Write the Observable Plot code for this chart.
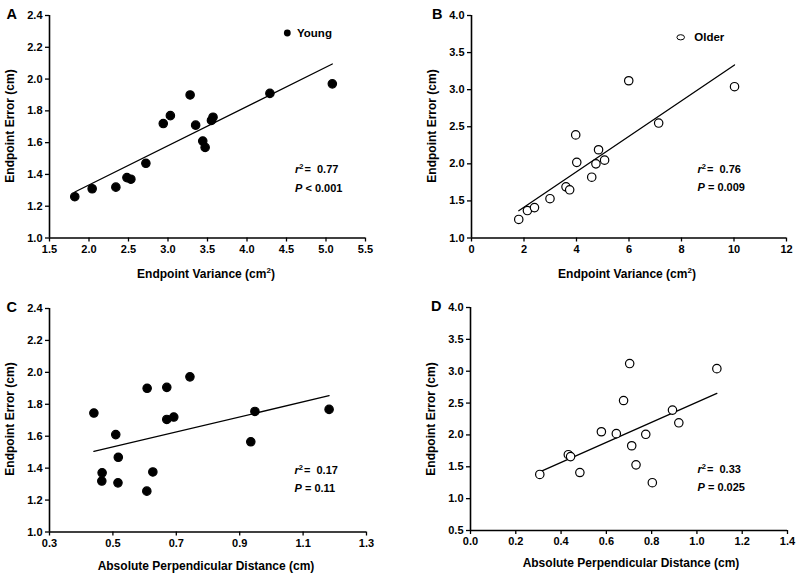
<!DOCTYPE html>
<html><head><meta charset="utf-8">
<script src="https://cdn.jsdelivr.net/npm/d3@7"></script>
<script src="https://cdn.jsdelivr.net/npm/@observablehq/plot@0.6"></script>
<style>
body{margin:0;background:#fff;}
#fig{position:relative;width:800px;height:579px;overflow:hidden;background:#fff;}
#fig svg.plot{position:absolute;}
#overlay{position:absolute;left:0;top:0;pointer-events:none;}
</style></head><body><div id="fig"></div>
<script>
// ---- Data ----
// Panel A: young, endpoint variance vs endpoint error
const youngVarianceA = [1.82, 2.04, 2.34, 2.48, 2.53, 2.72, 2.94, 3.03, 3.28, 3.35, 3.44, 3.47, 3.55, 3.57, 4.29, 5.08];
const youngErrorA    = [1.26, 1.31, 1.32, 1.38, 1.37, 1.47, 1.72, 1.77, 1.90, 1.71, 1.61, 1.57, 1.74, 1.76, 1.91, 1.97];
// Panel B: older, endpoint variance vs endpoint error
const olderVarianceB = [1.80, 2.13, 2.40, 2.99, 3.60, 3.74, 3.97, 4.01, 4.58, 4.74, 4.84, 5.07, 5.99, 7.13, 10.02];
const olderErrorB    = [1.25, 1.37, 1.41, 1.53, 1.69, 1.65, 2.39, 2.02, 1.82, 2.00, 2.19, 2.05, 3.12, 2.55, 3.04];
// Panel C: young, absolute perpendicular distance vs endpoint error
const youngDistanceC = [0.440, 0.466, 0.465, 0.509, 0.517, 0.516, 0.608, 0.607, 0.626, 0.670, 0.670, 0.692, 0.743, 0.935, 0.948, 1.182];
const youngErrorC    = [1.745, 1.371, 1.319, 1.610, 1.468, 1.308, 1.900, 1.256, 1.376, 1.906, 1.705, 1.720, 1.972, 1.565, 1.755, 1.768];
// Panel D: older, absolute perpendicular distance vs endpoint error
const olderDistanceD = [0.306, 0.432, 0.442, 0.483, 0.578, 0.644, 0.676, 0.703, 0.712, 0.731, 0.774, 0.803, 0.892, 0.920, 1.088];
const olderErrorD    = [1.38, 1.69, 1.66, 1.41, 2.05, 2.02, 2.54, 3.12, 1.83, 1.53, 2.01, 1.25, 2.39, 2.19, 3.04];

// Tick values
const ticksXA = [1.5, 2.0, 2.5, 3.0, 3.5, 4.0, 4.5, 5.0, 5.5];
const ticksYA = [1.0, 1.2, 1.4, 1.6, 1.8, 2.0, 2.2, 2.4];
const ticksXB = [0, 2, 4, 6, 8, 10, 12];
const ticksYB = [1.0, 1.5, 2.0, 2.5, 3.0, 3.5, 4.0];
const ticksXC = [0.3, 0.5, 0.7, 0.9, 1.1, 1.3];
const ticksYC = [1.0, 1.2, 1.4, 1.6, 1.8, 2.0, 2.2, 2.4];
const ticksXD = [0.0, 0.2, 0.4, 0.6, 0.8, 1.0, 1.2, 1.4];
const ticksYD = [0.5, 1.0, 1.5, 2.0, 2.5, 3.0, 3.5, 4.0];

// Texts
const panelLetters = ["A", "B", "C", "D"];
const xTitles = ["Endpoint Variance (cm²)", "Endpoint Variance (cm²)", "Absolute Perpendicular Distance (cm)", "Absolute Perpendicular Distance (cm)"];
const yTitle = "Endpoint Error (cm)";
const r2Values = ["0.77", "0.76", "0.17", "0.33"];
const pTexts = ["< 0.001", "= 0.009", "= 0.11", "= 0.025"];
const legendLabels = ["Young", "Older"];

const FONT = '"Liberation Sans", Arial, Helvetica, sans-serif';

const rows = (xs, ys) => xs.map((x, i) => ({x, y: ys[i]}));

const panels = [
  {data: rows(youngVarianceA, youngErrorA), filled: true,  left: 0,   top: 0,   h: 290, m: [15, 35, 52.5, 49], xT: ticksXA, yT: ticksYA, xF: d3.format(".1f"), yF: d3.format(".1f")},
  {data: rows(olderVarianceB, olderErrorB), filled: false, left: 400, top: 0,   h: 290, m: [15, 14, 52.5, 71], xT: ticksXB, yT: ticksYB, xF: d3.format("d"),  yF: d3.format(".1f")},
  {data: rows(youngDistanceC, youngErrorC), filled: true,  left: 0,   top: 290, h: 289, m: [18, 34, 47.5, 49], xT: ticksXC, yT: ticksYC, xF: d3.format(".1f"), yF: d3.format(".1f")},
  {data: rows(olderDistanceD, olderErrorD), filled: false, left: 400, top: 290, h: 289, m: [17, 13, 49, 70],   xT: ticksXD, yT: ticksYD, xF: d3.format(".1f"), yF: d3.format(".1f")}
];

const fig = document.getElementById("fig");

panels.forEach(p => {
  const xDom = [p.xT[0], p.xT[p.xT.length - 1]];
  const yDom = [p.yT[0], p.yT[p.yT.length - 1]];
  const svg = Plot.plot({
    width: 400,
    height: p.h,
    marginTop: p.m[0], marginRight: p.m[1], marginBottom: p.m[2], marginLeft: p.m[3],
    style: {fontFamily: FONT, fontSize: "11px", fontWeight: "bold", color: "black", background: "transparent", overflow: "visible"},
    x: {domain: xDom},
    y: {domain: yDom},
    marks: [
      Plot.axisX({ticks: p.xT, tickFormat: p.xF, tickSize: 4, tickPadding: 3, strokeWidth: 1.3, label: null, fontSize: 11, fontWeight: "bold"}),
      Plot.axisY({ticks: p.yT, tickFormat: p.yF, tickSize: 4, tickPadding: 3, strokeWidth: 1.3, label: null, fontSize: 11, fontWeight: "bold"}),
      Plot.ruleX([xDom[0]], {stroke: "black", strokeWidth: 1.6}),
      Plot.ruleY([yDom[0]], {stroke: "black", strokeWidth: 1.6}),
      Plot.linearRegressionY(p.data, {x: "x", y: "y", stroke: "black", strokeWidth: 1.3, ci: 0}),
      Plot.dot(p.data, {x: "x", y: "y", r: 4.2, fill: p.filled ? "black" : "white", stroke: "black", strokeWidth: 1.2})
    ]
  });
  svg.classList.add("plot");
  svg.style.left = p.left + "px";
  svg.style.top = p.top + "px";
  fig.appendChild(svg);
});

// ---- Overlay: panel letters, axis titles, legends, statistics ----
const NS = "http://www.w3.org/2000/svg";
const ov = document.createElementNS(NS, "svg");
ov.setAttribute("id", "overlay");
ov.setAttribute("width", 800);
ov.setAttribute("height", 579);
ov.setAttribute("font-family", FONT);
ov.setAttribute("font-weight", "bold");
fig.appendChild(ov);

function txt(x, y, size, content, opts = {}) {
  const t = document.createElementNS(NS, "text");
  t.setAttribute("x", x);
  t.setAttribute("y", y);
  t.setAttribute("font-size", size);
  if (opts.anchor) t.setAttribute("text-anchor", opts.anchor);
  if (opts.rotate) t.setAttribute("transform", `rotate(-90 ${x} ${y})`);
  if (typeof content === "string") t.textContent = content;
  else content(t);
  ov.appendChild(t);
  return t;
}
function tspan(parent, s, attrs = {}) {
  const ts = document.createElementNS(NS, "tspan");
  for (const k in attrs) ts.setAttribute(k, attrs[k]);
  ts.textContent = s;
  parent.appendChild(ts);
}

// panel letters
const letterPos = [[6.5, 18.5], [432, 18.5], [6.5, 311.5], [431, 311]];
panelLetters.forEach((L, i) => txt(letterPos[i][0], letterPos[i][1], 14.5, L));

// x-axis titles
const xTitlePos = [[206, 278], [627, 278], [206, 570], [631, 567]];
xTitles.forEach((s, i) => {
  const [x, y] = xTitlePos[i];
  if (s.includes("²")) {
    txt(x, y, 12, t => {
      tspan(t, s.replace("²)", ""));
      tspan(t, "2", {"font-size": 8, dy: -5});
      tspan(t, ")", {dy: 5});
    }, {anchor: "middle"});
  } else {
    txt(x, y, 12, s, {anchor: "middle"});
  }
});

// y-axis titles (rotated)
const yTitlePos = [[13.5, 126], [435.5, 126], [13.5, 419], [434.5, 419]];
yTitlePos.forEach(([x, y]) => txt(x, y, 12, yTitle, {anchor: "middle", rotate: true}));

// statistics
const statPos = [[295, 173, 191.5], [697.5, 173, 191], [294.5, 474, 491.5], [697.5, 473.3, 491]];
statPos.forEach(([x, y1, y2], i) => {
  txt(x, y1, 11, t => {
    tspan(t, "r", {"font-style": "italic"});
    tspan(t, "2", {"font-size": 7.5, dy: -4.5});
    tspan(t, "=\u00a0\u00a0" + r2Values[i], {dy: 4.5, dx: 1});
  });
  txt(x, y2, 11, t => {
    tspan(t, "P", {"font-style": "italic"});
    tspan(t, "\u00a0" + pTexts[i]);
  });
});

// legends
const c1 = document.createElementNS(NS, "circle");
c1.setAttribute("cx", 287.3); c1.setAttribute("cy", 33); c1.setAttribute("r", 3.4);
c1.setAttribute("fill", "black");
ov.appendChild(c1);
txt(297, 36.8, 11.5, legendLabels[0]);
const e1 = document.createElementNS(NS, "ellipse");
e1.setAttribute("cx", 680.7); e1.setAttribute("cy", 37.3); e1.setAttribute("rx", 3.8); e1.setAttribute("ry", 2.6);
e1.setAttribute("fill", "white"); e1.setAttribute("stroke", "black"); e1.setAttribute("stroke-width", 1);
ov.appendChild(e1);
txt(694.3, 41, 11.5, legendLabels[1]);
</script>
</body></html>
